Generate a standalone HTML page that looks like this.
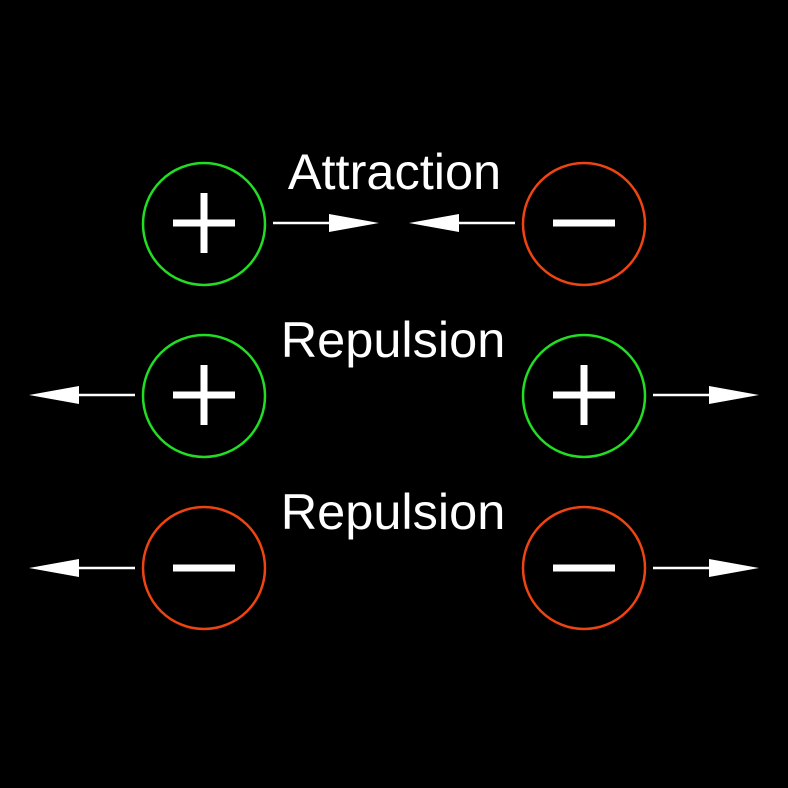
<!DOCTYPE html>
<html><head><style>html,body{margin:0;padding:0;background:#000;}svg{display:block}</style></head>
<body>
<svg width="788" height="788" viewBox="0 0 788 788" xmlns="http://www.w3.org/2000/svg">
<rect width="788" height="788" fill="#000"/>
<defs>
<g id="ar"><line x1="0" y1="0" x2="58" y2="0" stroke="#fff" stroke-width="2.5"/><polygon points="56,-9 106,0 56,9" fill="#fff"/></g>
<g id="plus"><rect x="-31" y="-3.5" width="62" height="7" fill="#fff"/><rect x="-3.5" y="-30" width="7" height="60" fill="#fff"/></g>
<g id="minus"><rect x="-31" y="-3.5" width="62" height="7" fill="#fff"/></g>
</defs>
<g fill="none" stroke-width="2.5">
<circle cx="204" cy="224" r="61" stroke="#22dd22"/>
<circle cx="584" cy="224" r="61" stroke="#ee4411"/>
<circle cx="204" cy="396" r="61" stroke="#22dd22"/>
<circle cx="584" cy="396" r="61" stroke="#22dd22"/>
<circle cx="204" cy="568" r="61" stroke="#ee4411"/>
<circle cx="584" cy="568" r="61" stroke="#ee4411"/>
</g>
<use href="#plus" x="204" y="223"/>
<use href="#minus" x="584" y="223"/>
<use href="#plus" x="204" y="395"/>
<use href="#plus" x="584" y="395"/>
<use href="#minus" x="204" y="568"/>
<use href="#minus" x="584" y="568"/>
<use href="#ar" transform="translate(273,223)"/>
<use href="#ar" transform="translate(515,223) scale(-1,1)"/>
<use href="#ar" transform="translate(135,395) scale(-1,1)"/>
<use href="#ar" transform="translate(653,395)"/>
<use href="#ar" transform="translate(135,568) scale(-1,1)"/>
<use href="#ar" transform="translate(653,568)"/>
<g font-family="Liberation Sans, sans-serif" font-size="50.5" fill="#fff" text-anchor="middle">
<text x="394.5" y="189">Attraction</text>
<text x="393" y="357">Repulsion</text>
<text x="393" y="529">Repulsion</text>
</g>
</svg>
</body></html>
